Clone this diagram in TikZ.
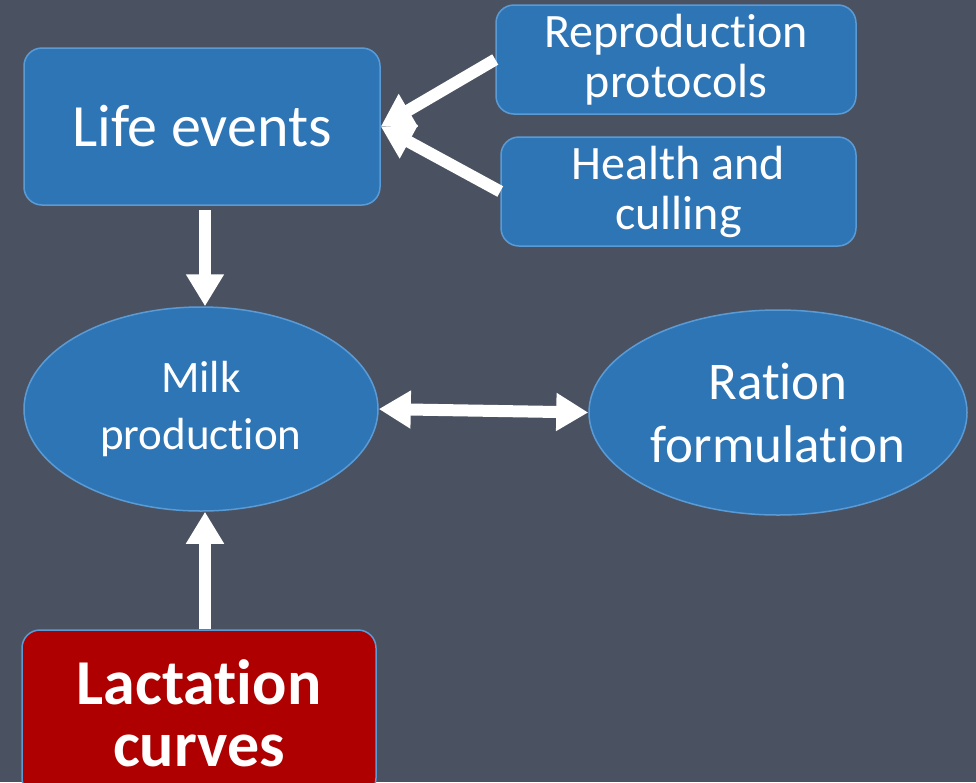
\documentclass[tikz,border=0pt]{standalone}
\usepackage{fontspec}
\setmainfont{Carlito}[Ligatures=NoCommon]
\usetikzlibrary{shapes.geometric,arrows.meta}
\definecolor{bgc}{RGB}{74,82,97}
\definecolor{boxc}{RGB}{46,117,182}
\definecolor{edgec}{RGB}{91,155,213}
\definecolor{redc}{RGB}{174,0,0}
\tikzset{
  rbox/.style={draw=edgec, line width=1.5pt, fill=boxc, rounded corners=18pt, text=white, align=center, inner sep=0pt},
  ebox/.style={draw=edgec, line width=1.5pt, fill=boxc, ellipse, text=white, align=center, inner sep=0pt},
  bigarrow/.style={draw=white, line width=12pt, -{Triangle[length=32pt,width=36pt]}},
  dblarrow/.style={draw=white, line width=12pt, {Triangle[length=32pt,width=36pt]}-{Triangle[length=32pt,width=36pt]}}
}
\begin{document}
\begin{tikzpicture}[x=1pt,y=-1pt]
\fill[bgc] (0,0) rectangle (976,782);
\useasboundingbox (0,0) rectangle (976,782);
\node[rbox, minimum width=356pt, minimum height=157pt, font=\fontsize{60}{66}\selectfont] (life) at (202,126.5) {Life events};
\node[rbox, minimum width=360pt, minimum height=109pt, font=\fontsize{48}{50}\selectfont] (repro) at (676,59.5) {Reproduction\\protocols};
\node[rbox, minimum width=355pt, minimum height=109pt, font=\fontsize{48}{50}\selectfont] (health) at (678.5,191.5) {Health and\\culling};
\node[ebox, minimum width=354pt, minimum height=204pt, font=\fontsize{45}{57}\selectfont] (milk) at (201,409) {Milk\\production};
\node[ebox, minimum width=378pt, minimum height=205pt, font=\fontsize{53}{63}\selectfont] (ration) at (778,412.5) {Ration\\formulation};
\node[rbox, fill=redc, minimum width=354pt, minimum height=166pt, font=\fontsize{64}{62}\selectfont\bfseries] (lact) at (199,713) {Lactation\\curves};
\draw[bigarrow, shorten <=5pt] (205,205) -- (milk.north -| 205,0);
\draw[bigarrow] (repro.west) -- (life.east);
\draw[bigarrow] (health.west) -- (life.east);
\draw[dblarrow] (milk.east) -- (ration.west);
\draw[bigarrow] (lact.north -| 205,0) -- (milk.south -| 205,0);
\end{tikzpicture}
\end{document}
